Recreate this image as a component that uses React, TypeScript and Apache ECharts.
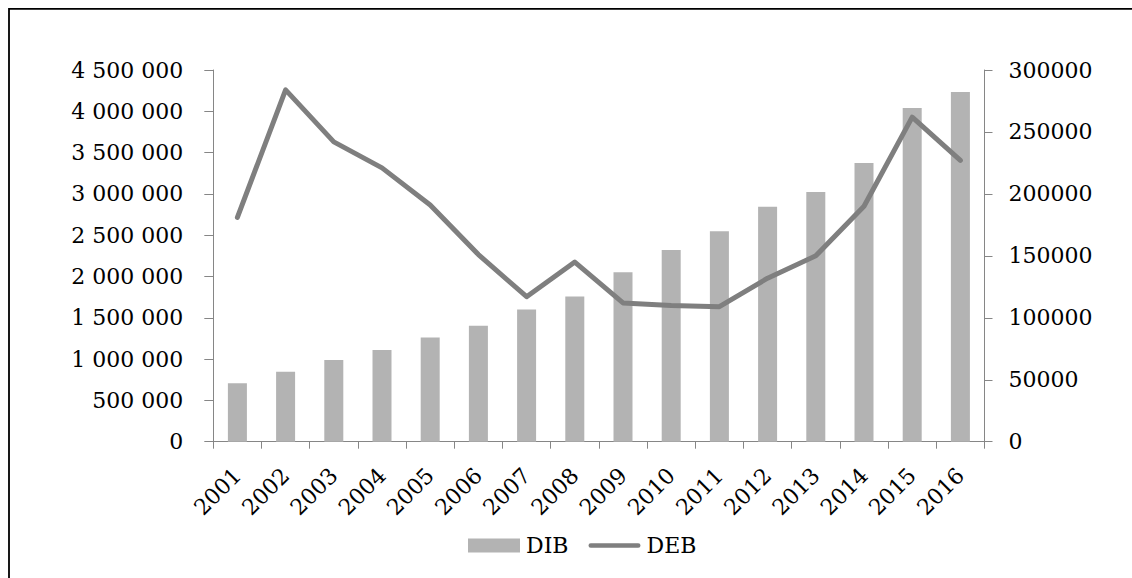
import React, { useEffect, useRef } from "react";
import * as echarts from "echarts";

// Years on the category axis
const years = [
  "2001", "2002", "2003", "2004", "2005", "2006", "2007", "2008",
  "2009", "2010", "2011", "2012", "2013", "2014", "2015", "2016",
];

// DIB (bars, left axis)
const dibValues = [
  707000, 847000, 989000, 1111000, 1263000, 1404000, 1600000, 1759000,
  2050000, 2322000, 2548000, 2843000, 3024000, 3375000, 4040000, 4234000,
];

// DEB (line, right axis)
const debValues = [
  181000, 284000, 242000, 221000, 191000, 151000, 117000, 145000,
  112000, 110000, 109000, 132000, 150000, 190000, 262000, 227000,
];

// Axis ranges
const leftMax = 4500000;
const leftStep = 500000;
const rightMax = 300000;
const rightStep = 50000;

const FONT = "DejaVu Serif";
const AXIS_GREY = "#868686";
const BAR_GREY = "#b3b3b3";
const LINE_GREY = "#7f7f7f";

// Legend swatch for the line series: a thin bar with rounded ends
const LINE_ICON =
  "path://M2,0 H54 A2.5,2.5 0 0 1 54,5 H2 A2.5,2.5 0 0 1 2,0 Z";

// "4500000" -> "4 500 000"
const spaced = (v: number) =>
  String(Math.round(v)).replace(/\B(?=(\d{3})+(?!\d))/g, " ");

export default function App() {
  const ref = useRef<HTMLDivElement>(null);

  useEffect(() => {
    if (!ref.current) return;
    const chart = echarts.init(ref.current, undefined, { renderer: "svg" });

    const labelStyle = { color: "#000", fontFamily: FONT, fontSize: 22 };

    chart.setOption({
      animation: false,
      backgroundColor: "#fff",
      graphic: [
        {
          type: "rect",
          shape: { x: 9, y: 8.8, width: 1300, height: 800 },
          style: { fill: "none", stroke: "#000", lineWidth: 1.8 },
          silent: true,
        },
      ],
      grid: { left: 213.3, right: 147.5, top: 70, bottom: 136.3 },
      legend: {
        left: 468,
        top: 534.5,
        padding: 0,
        itemWidth: 52,
        itemHeight: 14,
        itemGap: 20,
        textStyle: { ...labelStyle, padding: [0, 0, 0, 1] },
        data: [
          { name: "DIB", icon: "rect" },
          {
            name: "DEB",
            icon: LINE_ICON,
            itemStyle: { color: LINE_GREY, borderWidth: 0 },
          },
        ],
      },
      xAxis: {
        type: "category",
        data: years,
        boundaryGap: true,
        axisLine: { show: true, lineStyle: { color: AXIS_GREY, width: 1 } },
        axisTick: { show: true, length: 7, lineStyle: { color: AXIS_GREY } },
        axisLabel: { ...labelStyle, rotate: 45, margin: 30, interval: 0 },
        splitLine: { show: false },
      },
      yAxis: [
        {
          type: "value",
          min: 0,
          max: leftMax,
          interval: leftStep,
          axisLine: { show: true, lineStyle: { color: AXIS_GREY, width: 1 } },
          axisTick: { show: true, length: 9, lineStyle: { color: AXIS_GREY } },
          axisLabel: { ...labelStyle, margin: 30, formatter: spaced },
          splitLine: { show: false },
        },
        {
          type: "value",
          min: 0,
          max: rightMax,
          interval: rightStep,
          position: "right",
          axisLine: { show: true, lineStyle: { color: AXIS_GREY, width: 1 } },
          axisTick: { show: true, length: 8, lineStyle: { color: AXIS_GREY } },
          axisLabel: {
            ...labelStyle,
            margin: 24,
            formatter: (v: number) => String(Math.round(v)),
          },
          splitLine: { show: false },
        },
      ],
      series: [
        {
          name: "DIB",
          type: "bar",
          yAxisIndex: 0,
          data: dibValues,
          barWidth: 19,
          itemStyle: { color: BAR_GREY },
        },
        {
          name: "DEB",
          type: "line",
          yAxisIndex: 1,
          data: debValues,
          symbol: "none",
          showSymbol: false,
          itemStyle: { color: LINE_GREY },
          lineStyle: { color: LINE_GREY, width: 5, cap: "round", join: "round" },
        },
      ],
    });

    return () => chart.dispose();
  }, []);

  return (
    <div
      ref={ref}
      style={{ position: "fixed", left: 0, top: 0, width: 1132, height: 578 }}
    />
  );
}
